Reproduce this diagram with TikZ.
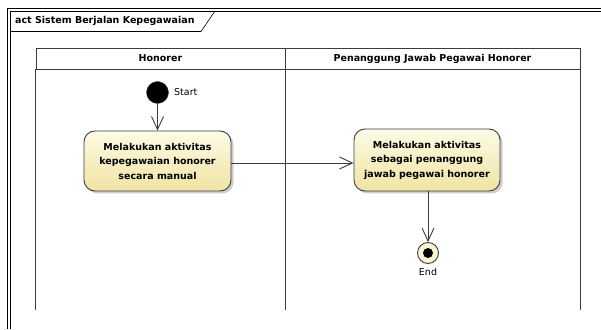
\documentclass[tikz,border=0pt]{standalone}
\usepackage{fontspec}
\setmainfont{DejaVu Sans}
\usetikzlibrary{arrows.meta,shadows}
\definecolor{actlight}{HTML}{FDFBE6}
\definecolor{actdark}{HTML}{F0E3A2}
\definecolor{edge}{HTML}{3C3C3C}
\begin{document}
\begin{tikzpicture}[x=1pt,y=1pt,
  frameline/.style={draw=black,line width=0.9pt},
  lane/.style={draw=edge,line width=0.9pt},
  lanehead/.style={lane,rectangle,inner sep=0pt,font=\fontsize{9.5}{11}\selectfont\bfseries},
  action/.style={rectangle,rounded corners=11pt,draw=edge,line width=0.9pt,
    top color=actlight,bottom color=actdark,
    drop shadow={shadow xshift=2.5pt,shadow yshift=-2.5pt,fill=gray!70,opacity=0.55},
    align=center,inner sep=2pt,
    font=\fontsize{9.5}{14.5}\selectfont\bfseries},
  flow/.style={draw=edge,line width=0.9pt,-{Straight Barb[length=13pt,width=12pt,line width=0.9pt]}},
  lbl/.style={font=\fontsize{9.5}{11}\selectfont,inner sep=0pt}]
\useasboundingbox (0,0) rectangle (601,329);
\fill[white] (0,0) rectangle (601,329);

% activity frame with double border and title tab
\draw[frameline] (7.5,0) -- (7.5,320.5) -- (601,320.5);
\draw[frameline,line width=0.6pt] (10.5,0) -- (10.5,318) -- (601,318);
\draw[frameline,line width=0.6pt] (10.5,297.5) -- (201,297.5) -- (215,318);
\node[anchor=west,inner sep=0pt,font=\fontsize{9.5}{11}\selectfont\bfseries] (title) at (15,308) {act Sistem Berjalan Kepegawaian};

% swimlanes
\node[lanehead,minimum width=249pt,minimum height=21pt] (laneA) at (160.5,270.5) {Honorer};
\node[lanehead,minimum width=295pt,minimum height=21pt] (laneB) at (432.5,270.5) {Penanggung Jawab Pegawai Honorer};
\draw[lane] (laneA.south west) -- ++(0,-241);
\draw[lane] (laneA.south east) -- ++(0,-241);
\draw[lane] (laneB.south east) -- ++(0,-241);

% start node
\node[circle,fill=black,draw=edge,minimum size=22pt,inner sep=0pt] (start) at (157.5,236.5) {};
\node[lbl,anchor=west] (startlbl) at (174,236.5) {Start};

% actions
\node[action,minimum width=147pt,minimum height=60pt] (act1) at (157.5,168)
  {Melakukan aktivitas\\kepegawaian honorer\\secara manual};
\node[action,minimum width=146pt,minimum height=62pt] (act2) at (427,169)
  {Melakukan aktivitas\\sebagai penanggung\\jawab pegawai honorer};

% final node
\node[circle,draw=edge,line width=0.9pt,fill=actlight!70!actdark,minimum size=21pt,inner sep=0pt] (end) at (428,76) {};
\fill[black] (end.center) circle (5pt);
\node[lbl] (endlbl) at (428,57.5) {End};

% control flows
\draw[flow] (start) -- (act1);
\draw[flow] (act1.east |- 0,166) -- (act2.west |- 0,166);
\draw[flow] (act2.south -| end) -- (end);
\end{tikzpicture}
\end{document}
